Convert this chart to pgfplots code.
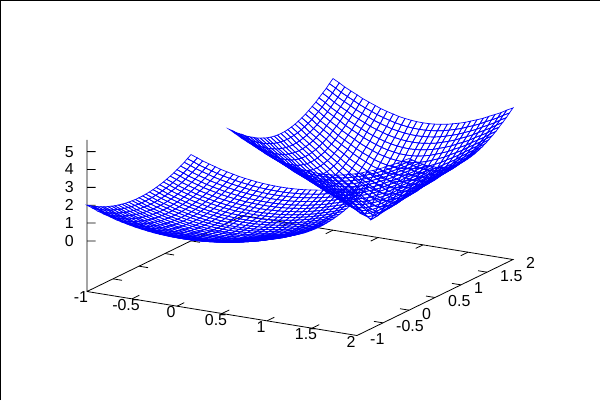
\documentclass[border=0pt]{standalone}
\usepackage{fontspec}
\setmainfont{Liberation Sans}
\usepackage{pgfplots}
\pgfplotsset{compat=1.18}
\begin{document}
\begin{tikzpicture}[x=1bp,y=1bp]
\path[use as bounding box] (0,0) rectangle (600,400);
\draw[line width=1bp] (0.5,0)--(0.5,399.5)--(600,399.5);
\begin{axis}[
    at={(229bp,169.7bp)}, anchor=origin,
    x={(90bp,-14.67bp)}, y={(52bp,25.33bp)}, z={(0bp,17.87bp)},
    xmin=-1, xmax=2, ymin=-1, ymax=2, zmin=-2.8284, zmax=5.6569,
    xtick={-1,-0.5,0,0.5,1,1.5,2}, ytick={-1,-0.5,0,0.5,1,1.5,2}, ztick={0,1,2,3,4,5},
    axis line style={draw=none},
    tick style={draw=none},
    major tick length=0pt,
    /pgf/number format/assume math mode=true,
    tick label style={font=\fontsize{16}{18}\selectfont, inner sep=0pt},
    x tick label style={anchor=center, xshift=-6bp, yshift=-6bp},
    y tick label style={anchor=west, xshift=13bp, yshift=-3.5bp},
    z tick label style={anchor=east, xshift=-13bp, yshift=0bp},
    clip=false,
]
% base frame and z axis
\addplot3[black, line width=0.8bp] coordinates {(-1,-1,5.6569) (-1,-1,-2.8284) (2,-1,-2.8284) (2,2,-2.8284) (-1,2,-2.8284) (-1,-1,-2.8284)};
% tick marks, front and mirrored
\addplot3[black, line width=0.8bp, unbounded coords=jump] coordinates {
(-0.5,-1,-2.8284) (-0.5,-0.86,-2.8284) (0,0,nan) (0,-1,-2.8284) (0,-0.86,-2.8284) (0,0,nan)
(0.5,-1,-2.8284) (0.5,-0.86,-2.8284) (0,0,nan) (1,-1,-2.8284) (1,-0.86,-2.8284) (0,0,nan)
(1.5,-1,-2.8284) (1.5,-0.86,-2.8284) (0,0,nan)
(-0.5,2,-2.8284) (-0.5,1.86,-2.8284) (0,0,nan) (0,2,-2.8284) (0,1.86,-2.8284) (0,0,nan)
(0.5,2,-2.8284) (0.5,1.86,-2.8284) (0,0,nan) (1,2,-2.8284) (1,1.86,-2.8284) (0,0,nan)
(1.5,2,-2.8284) (1.5,1.86,-2.8284) (0,0,nan)
(-1,-0.5,-2.8284) (-0.9,-0.5,-2.8284) (0,0,nan) (-1,0,-2.8284) (-0.9,0,-2.8284) (0,0,nan)
(-1,0.5,-2.8284) (-0.9,0.5,-2.8284) (0,0,nan) (-1,1,-2.8284) (-0.9,1,-2.8284) (0,0,nan)
(-1,1.5,-2.8284) (-0.9,1.5,-2.8284) (0,0,nan)
(2,-0.5,-2.8284) (1.9,-0.5,-2.8284) (0,0,nan) (2,0,-2.8284) (1.9,0,-2.8284) (0,0,nan)
(2,0.5,-2.8284) (1.9,0.5,-2.8284) (0,0,nan) (2,1,-2.8284) (1.9,1,-2.8284) (0,0,nan)
(2,1.5,-2.8284) (1.9,1.5,-2.8284) (0,0,nan)
(-1,-1,0) (-0.9276,-0.9581,0) (0,0,nan) (-1,-1,1) (-0.9276,-0.9581,1) (0,0,nan)
(-1,-1,2) (-0.9276,-0.9581,2) (0,0,nan) (-1,-1,3) (-0.9276,-0.9581,3) (0,0,nan)
(-1,-1,4) (-0.9276,-0.9581,4) (0,0,nan) (-1,-1,5) (-0.9276,-0.9581,5)
};
% left patch
\addplot3[mesh, line width=0.7bp, colormap={bl}{color=(blue) color=(blue)}, mesh/cols=31] coordinates {
(-1,-1,2) (-0.93,-1,1.871) (-0.87,-1,1.751) (-0.8,-1,1.64) (-0.73,-1,1.538) (-0.67,-1,1.444) (-0.6,-1,1.36) (-0.53,-1,1.284) (-0.47,-1,1.218) (-0.4,-1,1.16) (-0.33,-1,1.111) (-0.27,-1,1.071) (-0.2,-1,1.04) (-0.13,-1,1.018) (-0.07,-1,1.004) (0,-1,1) (0.07,-1,1.004) (0.13,-1,1.018) (0.2,-1,1.04) (0.27,-1,1.071) (0.33,-1,1.111) (0.4,-1,1.16) (0.47,-1,1.218) (0.53,-1,1.284) (0.6,-1,1.36) (0.67,-1,1.444) (0.73,-1,1.538) (0.8,-1,1.64) (0.87,-1,1.751) (0.93,-1,1.871) (1,-1,2)
(-1,-0.93,1.871) (-0.93,-0.93,1.742) (-0.87,-0.93,1.622) (-0.8,-0.93,1.511) (-0.73,-0.93,1.409) (-0.67,-0.93,1.315) (-0.6,-0.93,1.231) (-0.53,-0.93,1.155) (-0.47,-0.93,1.089) (-0.4,-0.93,1.031) (-0.33,-0.93,0.982) (-0.27,-0.93,0.942) (-0.2,-0.93,0.911) (-0.13,-0.93,0.889) (-0.07,-0.93,0.875) (0,-0.93,0.871) (0.07,-0.93,0.875) (0.13,-0.93,0.889) (0.2,-0.93,0.911) (0.27,-0.93,0.942) (0.33,-0.93,0.982) (0.4,-0.93,1.031) (0.47,-0.93,1.089) (0.53,-0.93,1.155) (0.6,-0.93,1.231) (0.67,-0.93,1.315) (0.73,-0.93,1.409) (0.8,-0.93,1.511) (0.87,-0.93,1.622) (0.93,-0.93,1.742) (1,-0.93,1.871)
(-1,-0.87,1.751) (-0.93,-0.87,1.622) (-0.87,-0.87,1.502) (-0.8,-0.87,1.391) (-0.73,-0.87,1.289) (-0.67,-0.87,1.195) (-0.6,-0.87,1.111) (-0.53,-0.87,1.035) (-0.47,-0.87,0.969) (-0.4,-0.87,0.911) (-0.33,-0.87,0.862) (-0.27,-0.87,0.822) (-0.2,-0.87,0.791) (-0.13,-0.87,0.769) (-0.07,-0.87,0.755) (0,-0.87,0.751) (0.07,-0.87,0.755) (0.13,-0.87,0.769) (0.2,-0.87,0.791) (0.27,-0.87,0.822) (0.33,-0.87,0.862) (0.4,-0.87,0.911) (0.47,-0.87,0.969) (0.53,-0.87,1.035) (0.6,-0.87,1.111) (0.67,-0.87,1.195) (0.73,-0.87,1.289) (0.8,-0.87,1.391) (0.87,-0.87,1.502) (0.93,-0.87,1.622) (1,-0.87,1.751)
(-1,-0.8,1.64) (-0.93,-0.8,1.511) (-0.87,-0.8,1.391) (-0.8,-0.8,1.28) (-0.73,-0.8,1.178) (-0.67,-0.8,1.084) (-0.6,-0.8,1) (-0.53,-0.8,0.924) (-0.47,-0.8,0.858) (-0.4,-0.8,0.8) (-0.33,-0.8,0.751) (-0.27,-0.8,0.711) (-0.2,-0.8,0.68) (-0.13,-0.8,0.658) (-0.07,-0.8,0.644) (0,-0.8,0.64) (0.07,-0.8,0.644) (0.13,-0.8,0.658) (0.2,-0.8,0.68) (0.27,-0.8,0.711) (0.33,-0.8,0.751) (0.4,-0.8,0.8) (0.47,-0.8,0.858) (0.53,-0.8,0.924) (0.6,-0.8,1) (0.67,-0.8,1.084) (0.73,-0.8,1.178) (0.8,-0.8,1.28) (0.87,-0.8,1.391) (0.93,-0.8,1.511) (1,-0.8,1.64)
(-1,-0.73,1.538) (-0.93,-0.73,1.409) (-0.87,-0.73,1.289) (-0.8,-0.73,1.178) (-0.73,-0.73,1.076) (-0.67,-0.73,0.982) (-0.6,-0.73,0.898) (-0.53,-0.73,0.822) (-0.47,-0.73,0.756) (-0.4,-0.73,0.698) (-0.33,-0.73,0.649) (-0.27,-0.73,0.609) (-0.2,-0.73,0.578) (-0.13,-0.73,0.556) (-0.07,-0.73,0.542) (0,-0.73,0.538) (0.07,-0.73,0.542) (0.13,-0.73,0.556) (0.2,-0.73,0.578) (0.27,-0.73,0.609) (0.33,-0.73,0.649) (0.4,-0.73,0.698) (0.47,-0.73,0.756) (0.53,-0.73,0.822) (0.6,-0.73,0.898) (0.67,-0.73,0.982) (0.73,-0.73,1.076) (0.8,-0.73,1.178) (0.87,-0.73,1.289) (0.93,-0.73,1.409) (1,-0.73,1.538)
(-1,-0.67,1.444) (-0.93,-0.67,1.315) (-0.87,-0.67,1.195) (-0.8,-0.67,1.084) (-0.73,-0.67,0.982) (-0.67,-0.67,0.888) (-0.6,-0.67,0.804) (-0.53,-0.67,0.728) (-0.47,-0.67,0.662) (-0.4,-0.67,0.604) (-0.33,-0.67,0.555) (-0.27,-0.67,0.515) (-0.2,-0.67,0.484) (-0.13,-0.67,0.462) (-0.07,-0.67,0.448) (0,-0.67,0.444) (0.07,-0.67,0.448) (0.13,-0.67,0.462) (0.2,-0.67,0.484) (0.27,-0.67,0.515) (0.33,-0.67,0.555) (0.4,-0.67,0.604) (0.47,-0.67,0.662) (0.53,-0.67,0.728) (0.6,-0.67,0.804) (0.67,-0.67,0.888) (0.73,-0.67,0.982) (0.8,-0.67,1.084) (0.87,-0.67,1.195) (0.93,-0.67,1.315) (1,-0.67,1.444)
(-1,-0.6,1.36) (-0.93,-0.6,1.231) (-0.87,-0.6,1.111) (-0.8,-0.6,1) (-0.73,-0.6,0.898) (-0.67,-0.6,0.804) (-0.6,-0.6,0.72) (-0.53,-0.6,0.644) (-0.47,-0.6,0.578) (-0.4,-0.6,0.52) (-0.33,-0.6,0.471) (-0.27,-0.6,0.431) (-0.2,-0.6,0.4) (-0.13,-0.6,0.378) (-0.07,-0.6,0.364) (0,-0.6,0.36) (0.07,-0.6,0.364) (0.13,-0.6,0.378) (0.2,-0.6,0.4) (0.27,-0.6,0.431) (0.33,-0.6,0.471) (0.4,-0.6,0.52) (0.47,-0.6,0.578) (0.53,-0.6,0.644) (0.6,-0.6,0.72) (0.67,-0.6,0.804) (0.73,-0.6,0.898) (0.8,-0.6,1) (0.87,-0.6,1.111) (0.93,-0.6,1.231) (1,-0.6,1.36)
(-1,-0.53,1.284) (-0.93,-0.53,1.155) (-0.87,-0.53,1.035) (-0.8,-0.53,0.924) (-0.73,-0.53,0.822) (-0.67,-0.53,0.728) (-0.6,-0.53,0.644) (-0.53,-0.53,0.568) (-0.47,-0.53,0.502) (-0.4,-0.53,0.444) (-0.33,-0.53,0.395) (-0.27,-0.53,0.355) (-0.2,-0.53,0.324) (-0.13,-0.53,0.302) (-0.07,-0.53,0.288) (0,-0.53,0.284) (0.07,-0.53,0.288) (0.13,-0.53,0.302) (0.2,-0.53,0.324) (0.27,-0.53,0.355) (0.33,-0.53,0.395) (0.4,-0.53,0.444) (0.47,-0.53,0.502) (0.53,-0.53,0.568) (0.6,-0.53,0.644) (0.67,-0.53,0.728) (0.73,-0.53,0.822) (0.8,-0.53,0.924) (0.87,-0.53,1.035) (0.93,-0.53,1.155) (1,-0.53,1.284)
(-1,-0.47,1.218) (-0.93,-0.47,1.089) (-0.87,-0.47,0.969) (-0.8,-0.47,0.858) (-0.73,-0.47,0.756) (-0.67,-0.47,0.662) (-0.6,-0.47,0.578) (-0.53,-0.47,0.502) (-0.47,-0.47,0.436) (-0.4,-0.47,0.378) (-0.33,-0.47,0.329) (-0.27,-0.47,0.289) (-0.2,-0.47,0.258) (-0.13,-0.47,0.236) (-0.07,-0.47,0.222) (0,-0.47,0.218) (0.07,-0.47,0.222) (0.13,-0.47,0.236) (0.2,-0.47,0.258) (0.27,-0.47,0.289) (0.33,-0.47,0.329) (0.4,-0.47,0.378) (0.47,-0.47,0.436) (0.53,-0.47,0.502) (0.6,-0.47,0.578) (0.67,-0.47,0.662) (0.73,-0.47,0.756) (0.8,-0.47,0.858) (0.87,-0.47,0.969) (0.93,-0.47,1.089) (1,-0.47,1.218)
(-1,-0.4,1.16) (-0.93,-0.4,1.031) (-0.87,-0.4,0.911) (-0.8,-0.4,0.8) (-0.73,-0.4,0.698) (-0.67,-0.4,0.604) (-0.6,-0.4,0.52) (-0.53,-0.4,0.444) (-0.47,-0.4,0.378) (-0.4,-0.4,0.32) (-0.33,-0.4,0.271) (-0.27,-0.4,0.231) (-0.2,-0.4,0.2) (-0.13,-0.4,0.178) (-0.07,-0.4,0.164) (0,-0.4,0.16) (0.07,-0.4,0.164) (0.13,-0.4,0.178) (0.2,-0.4,0.2) (0.27,-0.4,0.231) (0.33,-0.4,0.271) (0.4,-0.4,0.32) (0.47,-0.4,0.378) (0.53,-0.4,0.444) (0.6,-0.4,0.52) (0.67,-0.4,0.604) (0.73,-0.4,0.698) (0.8,-0.4,0.8) (0.87,-0.4,0.911) (0.93,-0.4,1.031) (1,-0.4,1.16)
(-1,-0.33,1.111) (-0.93,-0.33,0.982) (-0.87,-0.33,0.862) (-0.8,-0.33,0.751) (-0.73,-0.33,0.649) (-0.67,-0.33,0.555) (-0.6,-0.33,0.471) (-0.53,-0.33,0.395) (-0.47,-0.33,0.329) (-0.4,-0.33,0.271) (-0.33,-0.33,0.222) (-0.27,-0.33,0.182) (-0.2,-0.33,0.151) (-0.13,-0.33,0.129) (-0.07,-0.33,0.115) (0,-0.33,0.111) (0.07,-0.33,0.115) (0.13,-0.33,0.129) (0.2,-0.33,0.151) (0.27,-0.33,0.182) (0.33,-0.33,0.222) (0.4,-0.33,0.271) (0.47,-0.33,0.329) (0.53,-0.33,0.395) (0.6,-0.33,0.471) (0.67,-0.33,0.555) (0.73,-0.33,0.649) (0.8,-0.33,0.751) (0.87,-0.33,0.862) (0.93,-0.33,0.982) (1,-0.33,1.111)
(-1,-0.27,1.071) (-0.93,-0.27,0.942) (-0.87,-0.27,0.822) (-0.8,-0.27,0.711) (-0.73,-0.27,0.609) (-0.67,-0.27,0.515) (-0.6,-0.27,0.431) (-0.53,-0.27,0.355) (-0.47,-0.27,0.289) (-0.4,-0.27,0.231) (-0.33,-0.27,0.182) (-0.27,-0.27,0.142) (-0.2,-0.27,0.111) (-0.13,-0.27,0.089) (-0.07,-0.27,0.075) (0,-0.27,0.071) (0.07,-0.27,0.075) (0.13,-0.27,0.089) (0.2,-0.27,0.111) (0.27,-0.27,0.142) (0.33,-0.27,0.182) (0.4,-0.27,0.231) (0.47,-0.27,0.289) (0.53,-0.27,0.355) (0.6,-0.27,0.431) (0.67,-0.27,0.515) (0.73,-0.27,0.609) (0.8,-0.27,0.711) (0.87,-0.27,0.822) (0.93,-0.27,0.942) (1,-0.27,1.071)
(-1,-0.2,1.04) (-0.93,-0.2,0.911) (-0.87,-0.2,0.791) (-0.8,-0.2,0.68) (-0.73,-0.2,0.578) (-0.67,-0.2,0.484) (-0.6,-0.2,0.4) (-0.53,-0.2,0.324) (-0.47,-0.2,0.258) (-0.4,-0.2,0.2) (-0.33,-0.2,0.151) (-0.27,-0.2,0.111) (-0.2,-0.2,0.08) (-0.13,-0.2,0.058) (-0.07,-0.2,0.044) (0,-0.2,0.04) (0.07,-0.2,0.044) (0.13,-0.2,0.058) (0.2,-0.2,0.08) (0.27,-0.2,0.111) (0.33,-0.2,0.151) (0.4,-0.2,0.2) (0.47,-0.2,0.258) (0.53,-0.2,0.324) (0.6,-0.2,0.4) (0.67,-0.2,0.484) (0.73,-0.2,0.578) (0.8,-0.2,0.68) (0.87,-0.2,0.791) (0.93,-0.2,0.911) (1,-0.2,1.04)
(-1,-0.13,1.018) (-0.93,-0.13,0.889) (-0.87,-0.13,0.769) (-0.8,-0.13,0.658) (-0.73,-0.13,0.556) (-0.67,-0.13,0.462) (-0.6,-0.13,0.378) (-0.53,-0.13,0.302) (-0.47,-0.13,0.236) (-0.4,-0.13,0.178) (-0.33,-0.13,0.129) (-0.27,-0.13,0.089) (-0.2,-0.13,0.058) (-0.13,-0.13,0.036) (-0.07,-0.13,0.022) (0,-0.13,0.018) (0.07,-0.13,0.022) (0.13,-0.13,0.036) (0.2,-0.13,0.058) (0.27,-0.13,0.089) (0.33,-0.13,0.129) (0.4,-0.13,0.178) (0.47,-0.13,0.236) (0.53,-0.13,0.302) (0.6,-0.13,0.378) (0.67,-0.13,0.462) (0.73,-0.13,0.556) (0.8,-0.13,0.658) (0.87,-0.13,0.769) (0.93,-0.13,0.889) (1,-0.13,1.018)
(-1,-0.07,1.004) (-0.93,-0.07,0.875) (-0.87,-0.07,0.755) (-0.8,-0.07,0.644) (-0.73,-0.07,0.542) (-0.67,-0.07,0.448) (-0.6,-0.07,0.364) (-0.53,-0.07,0.288) (-0.47,-0.07,0.222) (-0.4,-0.07,0.164) (-0.33,-0.07,0.115) (-0.27,-0.07,0.075) (-0.2,-0.07,0.044) (-0.13,-0.07,0.022) (-0.07,-0.07,0.008) (0,-0.07,0.004) (0.07,-0.07,0.008) (0.13,-0.07,0.022) (0.2,-0.07,0.044) (0.27,-0.07,0.075) (0.33,-0.07,0.115) (0.4,-0.07,0.164) (0.47,-0.07,0.222) (0.53,-0.07,0.288) (0.6,-0.07,0.364) (0.67,-0.07,0.448) (0.73,-0.07,0.542) (0.8,-0.07,0.644) (0.87,-0.07,0.755) (0.93,-0.07,0.875) (1,-0.07,1.004)
(-1,0,1) (-0.93,0,0.871) (-0.87,0,0.751) (-0.8,0,0.64) (-0.73,0,0.538) (-0.67,0,0.444) (-0.6,0,0.36) (-0.53,0,0.284) (-0.47,0,0.218) (-0.4,0,0.16) (-0.33,0,0.111) (-0.27,0,0.071) (-0.2,0,0.04) (-0.13,0,0.018) (-0.07,0,0.004) (0,0,0) (0.07,0,0.004) (0.13,0,0.018) (0.2,0,0.04) (0.27,0,0.071) (0.33,0,0.111) (0.4,0,0.16) (0.47,0,0.218) (0.53,0,0.284) (0.6,0,0.36) (0.67,0,0.444) (0.73,0,0.538) (0.8,0,0.64) (0.87,0,0.751) (0.93,0,0.871) (1,0,1)
(-1,0.07,1.004) (-0.93,0.07,0.875) (-0.87,0.07,0.755) (-0.8,0.07,0.644) (-0.73,0.07,0.542) (-0.67,0.07,0.448) (-0.6,0.07,0.364) (-0.53,0.07,0.288) (-0.47,0.07,0.222) (-0.4,0.07,0.164) (-0.33,0.07,0.115) (-0.27,0.07,0.075) (-0.2,0.07,0.044) (-0.13,0.07,0.022) (-0.07,0.07,0.008) (0,0.07,0.004) (0.07,0.07,0.008) (0.13,0.07,0.022) (0.2,0.07,0.044) (0.27,0.07,0.075) (0.33,0.07,0.115) (0.4,0.07,0.164) (0.47,0.07,0.222) (0.53,0.07,0.288) (0.6,0.07,0.364) (0.67,0.07,0.448) (0.73,0.07,0.542) (0.8,0.07,0.644) (0.87,0.07,0.755) (0.93,0.07,0.875) (1,0.07,1.004)
(-1,0.13,1.018) (-0.93,0.13,0.889) (-0.87,0.13,0.769) (-0.8,0.13,0.658) (-0.73,0.13,0.556) (-0.67,0.13,0.462) (-0.6,0.13,0.378) (-0.53,0.13,0.302) (-0.47,0.13,0.236) (-0.4,0.13,0.178) (-0.33,0.13,0.129) (-0.27,0.13,0.089) (-0.2,0.13,0.058) (-0.13,0.13,0.036) (-0.07,0.13,0.022) (0,0.13,0.018) (0.07,0.13,0.022) (0.13,0.13,0.036) (0.2,0.13,0.058) (0.27,0.13,0.089) (0.33,0.13,0.129) (0.4,0.13,0.178) (0.47,0.13,0.236) (0.53,0.13,0.302) (0.6,0.13,0.378) (0.67,0.13,0.462) (0.73,0.13,0.556) (0.8,0.13,0.658) (0.87,0.13,0.769) (0.93,0.13,0.889) (1,0.13,1.018)
(-1,0.2,1.04) (-0.93,0.2,0.911) (-0.87,0.2,0.791) (-0.8,0.2,0.68) (-0.73,0.2,0.578) (-0.67,0.2,0.484) (-0.6,0.2,0.4) (-0.53,0.2,0.324) (-0.47,0.2,0.258) (-0.4,0.2,0.2) (-0.33,0.2,0.151) (-0.27,0.2,0.111) (-0.2,0.2,0.08) (-0.13,0.2,0.058) (-0.07,0.2,0.044) (0,0.2,0.04) (0.07,0.2,0.044) (0.13,0.2,0.058) (0.2,0.2,0.08) (0.27,0.2,0.111) (0.33,0.2,0.151) (0.4,0.2,0.2) (0.47,0.2,0.258) (0.53,0.2,0.324) (0.6,0.2,0.4) (0.67,0.2,0.484) (0.73,0.2,0.578) (0.8,0.2,0.68) (0.87,0.2,0.791) (0.93,0.2,0.911) (1,0.2,1.04)
(-1,0.27,1.071) (-0.93,0.27,0.942) (-0.87,0.27,0.822) (-0.8,0.27,0.711) (-0.73,0.27,0.609) (-0.67,0.27,0.515) (-0.6,0.27,0.431) (-0.53,0.27,0.355) (-0.47,0.27,0.289) (-0.4,0.27,0.231) (-0.33,0.27,0.182) (-0.27,0.27,0.142) (-0.2,0.27,0.111) (-0.13,0.27,0.089) (-0.07,0.27,0.075) (0,0.27,0.071) (0.07,0.27,0.075) (0.13,0.27,0.089) (0.2,0.27,0.111) (0.27,0.27,0.142) (0.33,0.27,0.182) (0.4,0.27,0.231) (0.47,0.27,0.289) (0.53,0.27,0.355) (0.6,0.27,0.431) (0.67,0.27,0.515) (0.73,0.27,0.609) (0.8,0.27,0.711) (0.87,0.27,0.822) (0.93,0.27,0.942) (1,0.27,1.071)
(-1,0.33,1.111) (-0.93,0.33,0.982) (-0.87,0.33,0.862) (-0.8,0.33,0.751) (-0.73,0.33,0.649) (-0.67,0.33,0.555) (-0.6,0.33,0.471) (-0.53,0.33,0.395) (-0.47,0.33,0.329) (-0.4,0.33,0.271) (-0.33,0.33,0.222) (-0.27,0.33,0.182) (-0.2,0.33,0.151) (-0.13,0.33,0.129) (-0.07,0.33,0.115) (0,0.33,0.111) (0.07,0.33,0.115) (0.13,0.33,0.129) (0.2,0.33,0.151) (0.27,0.33,0.182) (0.33,0.33,0.222) (0.4,0.33,0.271) (0.47,0.33,0.329) (0.53,0.33,0.395) (0.6,0.33,0.471) (0.67,0.33,0.555) (0.73,0.33,0.649) (0.8,0.33,0.751) (0.87,0.33,0.862) (0.93,0.33,0.982) (1,0.33,1.111)
(-1,0.4,1.16) (-0.93,0.4,1.031) (-0.87,0.4,0.911) (-0.8,0.4,0.8) (-0.73,0.4,0.698) (-0.67,0.4,0.604) (-0.6,0.4,0.52) (-0.53,0.4,0.444) (-0.47,0.4,0.378) (-0.4,0.4,0.32) (-0.33,0.4,0.271) (-0.27,0.4,0.231) (-0.2,0.4,0.2) (-0.13,0.4,0.178) (-0.07,0.4,0.164) (0,0.4,0.16) (0.07,0.4,0.164) (0.13,0.4,0.178) (0.2,0.4,0.2) (0.27,0.4,0.231) (0.33,0.4,0.271) (0.4,0.4,0.32) (0.47,0.4,0.378) (0.53,0.4,0.444) (0.6,0.4,0.52) (0.67,0.4,0.604) (0.73,0.4,0.698) (0.8,0.4,0.8) (0.87,0.4,0.911) (0.93,0.4,1.031) (1,0.4,1.16)
(-1,0.47,1.218) (-0.93,0.47,1.089) (-0.87,0.47,0.969) (-0.8,0.47,0.858) (-0.73,0.47,0.756) (-0.67,0.47,0.662) (-0.6,0.47,0.578) (-0.53,0.47,0.502) (-0.47,0.47,0.436) (-0.4,0.47,0.378) (-0.33,0.47,0.329) (-0.27,0.47,0.289) (-0.2,0.47,0.258) (-0.13,0.47,0.236) (-0.07,0.47,0.222) (0,0.47,0.218) (0.07,0.47,0.222) (0.13,0.47,0.236) (0.2,0.47,0.258) (0.27,0.47,0.289) (0.33,0.47,0.329) (0.4,0.47,0.378) (0.47,0.47,0.436) (0.53,0.47,0.502) (0.6,0.47,0.578) (0.67,0.47,0.662) (0.73,0.47,0.756) (0.8,0.47,0.858) (0.87,0.47,0.969) (0.93,0.47,1.089) (1,0.47,1.218)
(-1,0.53,1.284) (-0.93,0.53,1.155) (-0.87,0.53,1.035) (-0.8,0.53,0.924) (-0.73,0.53,0.822) (-0.67,0.53,0.728) (-0.6,0.53,0.644) (-0.53,0.53,0.568) (-0.47,0.53,0.502) (-0.4,0.53,0.444) (-0.33,0.53,0.395) (-0.27,0.53,0.355) (-0.2,0.53,0.324) (-0.13,0.53,0.302) (-0.07,0.53,0.288) (0,0.53,0.284) (0.07,0.53,0.288) (0.13,0.53,0.302) (0.2,0.53,0.324) (0.27,0.53,0.355) (0.33,0.53,0.395) (0.4,0.53,0.444) (0.47,0.53,0.502) (0.53,0.53,0.568) (0.6,0.53,0.644) (0.67,0.53,0.728) (0.73,0.53,0.822) (0.8,0.53,0.924) (0.87,0.53,1.035) (0.93,0.53,1.155) (1,0.53,1.284)
(-1,0.6,1.36) (-0.93,0.6,1.231) (-0.87,0.6,1.111) (-0.8,0.6,1) (-0.73,0.6,0.898) (-0.67,0.6,0.804) (-0.6,0.6,0.72) (-0.53,0.6,0.644) (-0.47,0.6,0.578) (-0.4,0.6,0.52) (-0.33,0.6,0.471) (-0.27,0.6,0.431) (-0.2,0.6,0.4) (-0.13,0.6,0.378) (-0.07,0.6,0.364) (0,0.6,0.36) (0.07,0.6,0.364) (0.13,0.6,0.378) (0.2,0.6,0.4) (0.27,0.6,0.431) (0.33,0.6,0.471) (0.4,0.6,0.52) (0.47,0.6,0.578) (0.53,0.6,0.644) (0.6,0.6,0.72) (0.67,0.6,0.804) (0.73,0.6,0.898) (0.8,0.6,1) (0.87,0.6,1.111) (0.93,0.6,1.231) (1,0.6,1.36)
(-1,0.67,1.444) (-0.93,0.67,1.315) (-0.87,0.67,1.195) (-0.8,0.67,1.084) (-0.73,0.67,0.982) (-0.67,0.67,0.888) (-0.6,0.67,0.804) (-0.53,0.67,0.728) (-0.47,0.67,0.662) (-0.4,0.67,0.604) (-0.33,0.67,0.555) (-0.27,0.67,0.515) (-0.2,0.67,0.484) (-0.13,0.67,0.462) (-0.07,0.67,0.448) (0,0.67,0.444) (0.07,0.67,0.448) (0.13,0.67,0.462) (0.2,0.67,0.484) (0.27,0.67,0.515) (0.33,0.67,0.555) (0.4,0.67,0.604) (0.47,0.67,0.662) (0.53,0.67,0.728) (0.6,0.67,0.804) (0.67,0.67,0.888) (0.73,0.67,0.982) (0.8,0.67,1.084) (0.87,0.67,1.195) (0.93,0.67,1.315) (1,0.67,1.444)
(-1,0.73,1.538) (-0.93,0.73,1.409) (-0.87,0.73,1.289) (-0.8,0.73,1.178) (-0.73,0.73,1.076) (-0.67,0.73,0.982) (-0.6,0.73,0.898) (-0.53,0.73,0.822) (-0.47,0.73,0.756) (-0.4,0.73,0.698) (-0.33,0.73,0.649) (-0.27,0.73,0.609) (-0.2,0.73,0.578) (-0.13,0.73,0.556) (-0.07,0.73,0.542) (0,0.73,0.538) (0.07,0.73,0.542) (0.13,0.73,0.556) (0.2,0.73,0.578) (0.27,0.73,0.609) (0.33,0.73,0.649) (0.4,0.73,0.698) (0.47,0.73,0.756) (0.53,0.73,0.822) (0.6,0.73,0.898) (0.67,0.73,0.982) (0.73,0.73,1.076) (0.8,0.73,1.178) (0.87,0.73,1.289) (0.93,0.73,1.409) (1,0.73,1.538)
(-1,0.8,1.64) (-0.93,0.8,1.511) (-0.87,0.8,1.391) (-0.8,0.8,1.28) (-0.73,0.8,1.178) (-0.67,0.8,1.084) (-0.6,0.8,1) (-0.53,0.8,0.924) (-0.47,0.8,0.858) (-0.4,0.8,0.8) (-0.33,0.8,0.751) (-0.27,0.8,0.711) (-0.2,0.8,0.68) (-0.13,0.8,0.658) (-0.07,0.8,0.644) (0,0.8,0.64) (0.07,0.8,0.644) (0.13,0.8,0.658) (0.2,0.8,0.68) (0.27,0.8,0.711) (0.33,0.8,0.751) (0.4,0.8,0.8) (0.47,0.8,0.858) (0.53,0.8,0.924) (0.6,0.8,1) (0.67,0.8,1.084) (0.73,0.8,1.178) (0.8,0.8,1.28) (0.87,0.8,1.391) (0.93,0.8,1.511) (1,0.8,1.64)
(-1,0.87,1.751) (-0.93,0.87,1.622) (-0.87,0.87,1.502) (-0.8,0.87,1.391) (-0.73,0.87,1.289) (-0.67,0.87,1.195) (-0.6,0.87,1.111) (-0.53,0.87,1.035) (-0.47,0.87,0.969) (-0.4,0.87,0.911) (-0.33,0.87,0.862) (-0.27,0.87,0.822) (-0.2,0.87,0.791) (-0.13,0.87,0.769) (-0.07,0.87,0.755) (0,0.87,0.751) (0.07,0.87,0.755) (0.13,0.87,0.769) (0.2,0.87,0.791) (0.27,0.87,0.822) (0.33,0.87,0.862) (0.4,0.87,0.911) (0.47,0.87,0.969) (0.53,0.87,1.035) (0.6,0.87,1.111) (0.67,0.87,1.195) (0.73,0.87,1.289) (0.8,0.87,1.391) (0.87,0.87,1.502) (0.93,0.87,1.622) (1,0.87,1.751)
(-1,0.93,1.871) (-0.93,0.93,1.742) (-0.87,0.93,1.622) (-0.8,0.93,1.511) (-0.73,0.93,1.409) (-0.67,0.93,1.315) (-0.6,0.93,1.231) (-0.53,0.93,1.155) (-0.47,0.93,1.089) (-0.4,0.93,1.031) (-0.33,0.93,0.982) (-0.27,0.93,0.942) (-0.2,0.93,0.911) (-0.13,0.93,0.889) (-0.07,0.93,0.875) (0,0.93,0.871) (0.07,0.93,0.875) (0.13,0.93,0.889) (0.2,0.93,0.911) (0.27,0.93,0.942) (0.33,0.93,0.982) (0.4,0.93,1.031) (0.47,0.93,1.089) (0.53,0.93,1.155) (0.6,0.93,1.231) (0.67,0.93,1.315) (0.73,0.93,1.409) (0.8,0.93,1.511) (0.87,0.93,1.622) (0.93,0.93,1.742) (1,0.93,1.871)
(-1,1,2) (-0.93,1,1.871) (-0.87,1,1.751) (-0.8,1,1.64) (-0.73,1,1.538) (-0.67,1,1.444) (-0.6,1,1.36) (-0.53,1,1.284) (-0.47,1,1.218) (-0.4,1,1.16) (-0.33,1,1.111) (-0.27,1,1.071) (-0.2,1,1.04) (-0.13,1,1.018) (-0.07,1,1.004) (0,1,1) (0.07,1,1.004) (0.13,1,1.018) (0.2,1,1.04) (0.27,1,1.071) (0.33,1,1.111) (0.4,1,1.16) (0.47,1,1.218) (0.53,1,1.284) (0.6,1,1.36) (0.67,1,1.444) (0.73,1,1.538) (0.8,1,1.64) (0.87,1,1.751) (0.93,1,1.871) (1,1,2)
};
% right patch
\addplot3[mesh, line width=0.7bp, colormap={bl}{color=(blue) color=(blue)}, mesh/cols=31] coordinates {
(0,0,5.657) (0.07,0,5.471) (0.13,0,5.293) (0.2,0,5.122) (0.27,0,4.96) (0.33,0,4.807) (0.4,0,4.665) (0.47,0,4.533) (0.53,0,4.414) (0.6,0,4.308) (0.67,0,4.216) (0.73,0,4.14) (0.8,0,4.079) (0.87,0,4.035) (0.93,0,4.009) (1,0,4) (1.07,0,4.009) (1.13,0,4.035) (1.2,0,4.079) (1.27,0,4.14) (1.33,0,4.216) (1.4,0,4.308) (1.47,0,4.414) (1.53,0,4.533) (1.6,0,4.665) (1.67,0,4.807) (1.73,0,4.96) (1.8,0,5.122) (1.87,0,5.293) (1.93,0,5.471) (2,0,5.657)
(0,0.07,5.471) (0.07,0.07,5.28) (0.13,0.07,5.095) (0.2,0.07,4.917) (0.27,0.07,4.748) (0.33,0.07,4.588) (0.4,0.07,4.438) (0.47,0.07,4.3) (0.53,0.07,4.174) (0.6,0.07,4.062) (0.67,0.07,3.964) (0.73,0.07,3.883) (0.8,0.07,3.818) (0.87,0.07,3.771) (0.93,0.07,3.743) (1,0.07,3.733) (1.07,0.07,3.743) (1.13,0.07,3.771) (1.2,0.07,3.818) (1.27,0.07,3.883) (1.33,0.07,3.964) (1.4,0.07,4.062) (1.47,0.07,4.174) (1.53,0.07,4.3) (1.6,0.07,4.438) (1.67,0.07,4.588) (1.73,0.07,4.748) (1.8,0.07,4.917) (1.87,0.07,5.095) (1.93,0.07,5.28) (2,0.07,5.471)
(0,0.13,5.293) (0.07,0.13,5.095) (0.13,0.13,4.903) (0.2,0.13,4.718) (0.27,0.13,4.541) (0.33,0.13,4.374) (0.4,0.13,4.216) (0.47,0.13,4.07) (0.53,0.13,3.937) (0.6,0.13,3.818) (0.67,0.13,3.714) (0.73,0.13,3.627) (0.8,0.13,3.558) (0.87,0.13,3.507) (0.93,0.13,3.477) (1,0.13,3.467) (1.07,0.13,3.477) (1.13,0.13,3.507) (1.2,0.13,3.558) (1.27,0.13,3.627) (1.33,0.13,3.714) (1.4,0.13,3.818) (1.47,0.13,3.937) (1.53,0.13,4.07) (1.6,0.13,4.216) (1.67,0.13,4.374) (1.73,0.13,4.541) (1.8,0.13,4.718) (1.87,0.13,4.903) (1.93,0.13,5.095) (2,0.13,5.293)
(0,0.2,5.122) (0.07,0.2,4.917) (0.13,0.2,4.718) (0.2,0.2,4.525) (0.27,0.2,4.341) (0.33,0.2,4.165) (0.4,0.2,4) (0.47,0.2,3.846) (0.53,0.2,3.705) (0.6,0.2,3.578) (0.67,0.2,3.467) (0.73,0.2,3.373) (0.8,0.2,3.298) (0.87,0.2,3.244) (0.93,0.2,3.211) (1,0.2,3.2) (1.07,0.2,3.211) (1.13,0.2,3.244) (1.2,0.2,3.298) (1.27,0.2,3.373) (1.33,0.2,3.467) (1.4,0.2,3.578) (1.47,0.2,3.705) (1.53,0.2,3.846) (1.6,0.2,4) (1.67,0.2,4.165) (1.73,0.2,4.341) (1.8,0.2,4.525) (1.87,0.2,4.718) (1.93,0.2,4.917) (2,0.2,5.122)
(0,0.27,4.96) (0.07,0.27,4.748) (0.13,0.27,4.541) (0.2,0.27,4.341) (0.27,0.27,4.148) (0.33,0.27,3.964) (0.4,0.27,3.79) (0.47,0.27,3.627) (0.53,0.27,3.477) (0.6,0.27,3.341) (0.67,0.27,3.222) (0.73,0.27,3.121) (0.8,0.27,3.04) (0.87,0.27,2.981) (0.93,0.27,2.945) (1,0.27,2.933) (1.07,0.27,2.945) (1.13,0.27,2.981) (1.2,0.27,3.04) (1.27,0.27,3.121) (1.33,0.27,3.222) (1.4,0.27,3.341) (1.47,0.27,3.477) (1.53,0.27,3.627) (1.6,0.27,3.79) (1.67,0.27,3.964) (1.73,0.27,4.148) (1.8,0.27,4.341) (1.87,0.27,4.541) (1.93,0.27,4.748) (2,0.27,4.96)
(0,0.33,4.807) (0.07,0.33,4.588) (0.13,0.33,4.374) (0.2,0.33,4.165) (0.27,0.33,3.964) (0.33,0.33,3.771) (0.4,0.33,3.588) (0.47,0.33,3.415) (0.53,0.33,3.255) (0.6,0.33,3.11) (0.67,0.33,2.981) (0.73,0.33,2.872) (0.8,0.33,2.784) (0.87,0.33,2.719) (0.93,0.33,2.68) (1,0.33,2.667) (1.07,0.33,2.68) (1.13,0.33,2.719) (1.2,0.33,2.784) (1.27,0.33,2.872) (1.33,0.33,2.981) (1.4,0.33,3.11) (1.47,0.33,3.255) (1.53,0.33,3.415) (1.6,0.33,3.588) (1.67,0.33,3.771) (1.73,0.33,3.964) (1.8,0.33,4.165) (1.87,0.33,4.374) (1.93,0.33,4.588) (2,0.33,4.807)
(0,0.4,4.665) (0.07,0.4,4.438) (0.13,0.4,4.216) (0.2,0.4,4) (0.27,0.4,3.79) (0.33,0.4,3.588) (0.4,0.4,3.394) (0.47,0.4,3.211) (0.53,0.4,3.04) (0.6,0.4,2.884) (0.67,0.4,2.745) (0.73,0.4,2.626) (0.8,0.4,2.53) (0.87,0.4,2.459) (0.93,0.4,2.415) (1,0.4,2.4) (1.07,0.4,2.415) (1.13,0.4,2.459) (1.2,0.4,2.53) (1.27,0.4,2.626) (1.33,0.4,2.745) (1.4,0.4,2.884) (1.47,0.4,3.04) (1.53,0.4,3.211) (1.6,0.4,3.394) (1.67,0.4,3.588) (1.73,0.4,3.79) (1.8,0.4,4) (1.87,0.4,4.216) (1.93,0.4,4.438) (2,0.4,4.665)
(0,0.47,4.533) (0.07,0.47,4.3) (0.13,0.47,4.07) (0.2,0.47,3.846) (0.27,0.47,3.627) (0.33,0.47,3.415) (0.4,0.47,3.211) (0.47,0.47,3.017) (0.53,0.47,2.835) (0.6,0.47,2.667) (0.67,0.47,2.516) (0.73,0.47,2.385) (0.8,0.47,2.278) (0.87,0.47,2.199) (0.93,0.47,2.15) (1,0.47,2.133) (1.07,0.47,2.15) (1.13,0.47,2.199) (1.2,0.47,2.278) (1.27,0.47,2.385) (1.33,0.47,2.516) (1.4,0.47,2.667) (1.47,0.47,2.835) (1.53,0.47,3.017) (1.6,0.47,3.211) (1.67,0.47,3.415) (1.73,0.47,3.627) (1.8,0.47,3.846) (1.87,0.47,4.07) (1.93,0.47,4.3) (2,0.47,4.533)
(0,0.53,4.414) (0.07,0.53,4.174) (0.13,0.53,3.937) (0.2,0.53,3.705) (0.27,0.53,3.477) (0.33,0.53,3.255) (0.4,0.53,3.04) (0.47,0.53,2.835) (0.53,0.53,2.64) (0.6,0.53,2.459) (0.67,0.53,2.294) (0.73,0.53,2.15) (0.8,0.53,2.031) (0.87,0.53,1.941) (0.93,0.53,1.886) (1,0.53,1.867) (1.07,0.53,1.886) (1.13,0.53,1.941) (1.2,0.53,2.031) (1.27,0.53,2.15) (1.33,0.53,2.294) (1.4,0.53,2.459) (1.47,0.53,2.64) (1.53,0.53,2.835) (1.6,0.53,3.04) (1.67,0.53,3.255) (1.73,0.53,3.477) (1.8,0.53,3.705) (1.87,0.53,3.937) (1.93,0.53,4.174) (2,0.53,4.414)
(0,0.6,4.308) (0.07,0.6,4.062) (0.13,0.6,3.818) (0.2,0.6,3.578) (0.27,0.6,3.341) (0.33,0.6,3.11) (0.4,0.6,2.884) (0.47,0.6,2.667) (0.53,0.6,2.459) (0.6,0.6,2.263) (0.67,0.6,2.083) (0.73,0.6,1.923) (0.8,0.6,1.789) (0.87,0.6,1.687) (0.93,0.6,1.622) (1,0.6,1.6) (1.07,0.6,1.622) (1.13,0.6,1.687) (1.2,0.6,1.789) (1.27,0.6,1.923) (1.33,0.6,2.083) (1.4,0.6,2.263) (1.47,0.6,2.459) (1.53,0.6,2.667) (1.6,0.6,2.884) (1.67,0.6,3.11) (1.73,0.6,3.341) (1.8,0.6,3.578) (1.87,0.6,3.818) (1.93,0.6,4.062) (2,0.6,4.308)
(0,0.67,4.216) (0.07,0.67,3.964) (0.13,0.67,3.714) (0.2,0.67,3.467) (0.27,0.67,3.222) (0.33,0.67,2.981) (0.4,0.67,2.745) (0.47,0.67,2.516) (0.53,0.67,2.294) (0.6,0.67,2.083) (0.67,0.67,1.886) (0.73,0.67,1.708) (0.8,0.67,1.555) (0.87,0.67,1.436) (0.93,0.67,1.36) (1,0.67,1.333) (1.07,0.67,1.36) (1.13,0.67,1.436) (1.2,0.67,1.555) (1.27,0.67,1.708) (1.33,0.67,1.886) (1.4,0.67,2.083) (1.47,0.67,2.294) (1.53,0.67,2.516) (1.6,0.67,2.745) (1.67,0.67,2.981) (1.73,0.67,3.222) (1.8,0.67,3.467) (1.87,0.67,3.714) (1.93,0.67,3.964) (2,0.67,4.216)
(0,0.73,4.14) (0.07,0.73,3.883) (0.13,0.73,3.627) (0.2,0.73,3.373) (0.27,0.73,3.121) (0.33,0.73,2.872) (0.4,0.73,2.626) (0.47,0.73,2.385) (0.53,0.73,2.15) (0.6,0.73,1.923) (0.67,0.73,1.708) (0.73,0.73,1.508) (0.8,0.73,1.333) (0.87,0.73,1.193) (0.93,0.73,1.1) (1,0.73,1.067) (1.07,0.73,1.1) (1.13,0.73,1.193) (1.2,0.73,1.333) (1.27,0.73,1.508) (1.33,0.73,1.708) (1.4,0.73,1.923) (1.47,0.73,2.15) (1.53,0.73,2.385) (1.6,0.73,2.626) (1.67,0.73,2.872) (1.73,0.73,3.121) (1.8,0.73,3.373) (1.87,0.73,3.627) (1.93,0.73,3.883) (2,0.73,4.14)
(0,0.8,4.079) (0.07,0.8,3.818) (0.13,0.8,3.558) (0.2,0.8,3.298) (0.27,0.8,3.04) (0.33,0.8,2.784) (0.4,0.8,2.53) (0.47,0.8,2.278) (0.53,0.8,2.031) (0.6,0.8,1.789) (0.67,0.8,1.555) (0.73,0.8,1.333) (0.8,0.8,1.131) (0.87,0.8,0.961) (0.93,0.8,0.843) (1,0.8,0.8) (1.07,0.8,0.843) (1.13,0.8,0.961) (1.2,0.8,1.131) (1.27,0.8,1.333) (1.33,0.8,1.555) (1.4,0.8,1.789) (1.47,0.8,2.031) (1.53,0.8,2.278) (1.6,0.8,2.53) (1.67,0.8,2.784) (1.73,0.8,3.04) (1.8,0.8,3.298) (1.87,0.8,3.558) (1.93,0.8,3.818) (2,0.8,4.079)
(0,0.87,4.035) (0.07,0.87,3.771) (0.13,0.87,3.507) (0.2,0.87,3.244) (0.27,0.87,2.981) (0.33,0.87,2.719) (0.4,0.87,2.459) (0.47,0.87,2.199) (0.53,0.87,1.941) (0.6,0.87,1.687) (0.67,0.87,1.436) (0.73,0.87,1.193) (0.8,0.87,0.961) (0.87,0.87,0.754) (0.93,0.87,0.596) (1,0.87,0.533) (1.07,0.87,0.596) (1.13,0.87,0.754) (1.2,0.87,0.961) (1.27,0.87,1.193) (1.33,0.87,1.436) (1.4,0.87,1.687) (1.47,0.87,1.941) (1.53,0.87,2.199) (1.6,0.87,2.459) (1.67,0.87,2.719) (1.73,0.87,2.981) (1.8,0.87,3.244) (1.87,0.87,3.507) (1.93,0.87,3.771) (2,0.87,4.035)
(0,0.93,4.009) (0.07,0.93,3.743) (0.13,0.93,3.477) (0.2,0.93,3.211) (0.27,0.93,2.945) (0.33,0.93,2.68) (0.4,0.93,2.415) (0.47,0.93,2.15) (0.53,0.93,1.886) (0.6,0.93,1.622) (0.67,0.93,1.36) (0.73,0.93,1.1) (0.8,0.93,0.843) (0.87,0.93,0.596) (0.93,0.93,0.377) (1,0.93,0.267) (1.07,0.93,0.377) (1.13,0.93,0.596) (1.2,0.93,0.843) (1.27,0.93,1.1) (1.33,0.93,1.36) (1.4,0.93,1.622) (1.47,0.93,1.886) (1.53,0.93,2.15) (1.6,0.93,2.415) (1.67,0.93,2.68) (1.73,0.93,2.945) (1.8,0.93,3.211) (1.87,0.93,3.477) (1.93,0.93,3.743) (2,0.93,4.009)
(0,1,4) (0.07,1,3.733) (0.13,1,3.467) (0.2,1,3.2) (0.27,1,2.933) (0.33,1,2.667) (0.4,1,2.4) (0.47,1,2.133) (0.53,1,1.867) (0.6,1,1.6) (0.67,1,1.333) (0.73,1,1.067) (0.8,1,0.8) (0.87,1,0.533) (0.93,1,0.267) (1,1,0) (1.07,1,0.267) (1.13,1,0.533) (1.2,1,0.8) (1.27,1,1.067) (1.33,1,1.333) (1.4,1,1.6) (1.47,1,1.867) (1.53,1,2.133) (1.6,1,2.4) (1.67,1,2.667) (1.73,1,2.933) (1.8,1,3.2) (1.87,1,3.467) (1.93,1,3.733) (2,1,4)
(0,1.07,4.009) (0.07,1.07,3.743) (0.13,1.07,3.477) (0.2,1.07,3.211) (0.27,1.07,2.945) (0.33,1.07,2.68) (0.4,1.07,2.415) (0.47,1.07,2.15) (0.53,1.07,1.886) (0.6,1.07,1.622) (0.67,1.07,1.36) (0.73,1.07,1.1) (0.8,1.07,0.843) (0.87,1.07,0.596) (0.93,1.07,0.377) (1,1.07,0.267) (1.07,1.07,0.377) (1.13,1.07,0.596) (1.2,1.07,0.843) (1.27,1.07,1.1) (1.33,1.07,1.36) (1.4,1.07,1.622) (1.47,1.07,1.886) (1.53,1.07,2.15) (1.6,1.07,2.415) (1.67,1.07,2.68) (1.73,1.07,2.945) (1.8,1.07,3.211) (1.87,1.07,3.477) (1.93,1.07,3.743) (2,1.07,4.009)
(0,1.13,4.035) (0.07,1.13,3.771) (0.13,1.13,3.507) (0.2,1.13,3.244) (0.27,1.13,2.981) (0.33,1.13,2.719) (0.4,1.13,2.459) (0.47,1.13,2.199) (0.53,1.13,1.941) (0.6,1.13,1.687) (0.67,1.13,1.436) (0.73,1.13,1.193) (0.8,1.13,0.961) (0.87,1.13,0.754) (0.93,1.13,0.596) (1,1.13,0.533) (1.07,1.13,0.596) (1.13,1.13,0.754) (1.2,1.13,0.961) (1.27,1.13,1.193) (1.33,1.13,1.436) (1.4,1.13,1.687) (1.47,1.13,1.941) (1.53,1.13,2.199) (1.6,1.13,2.459) (1.67,1.13,2.719) (1.73,1.13,2.981) (1.8,1.13,3.244) (1.87,1.13,3.507) (1.93,1.13,3.771) (2,1.13,4.035)
(0,1.2,4.079) (0.07,1.2,3.818) (0.13,1.2,3.558) (0.2,1.2,3.298) (0.27,1.2,3.04) (0.33,1.2,2.784) (0.4,1.2,2.53) (0.47,1.2,2.278) (0.53,1.2,2.031) (0.6,1.2,1.789) (0.67,1.2,1.555) (0.73,1.2,1.333) (0.8,1.2,1.131) (0.87,1.2,0.961) (0.93,1.2,0.843) (1,1.2,0.8) (1.07,1.2,0.843) (1.13,1.2,0.961) (1.2,1.2,1.131) (1.27,1.2,1.333) (1.33,1.2,1.555) (1.4,1.2,1.789) (1.47,1.2,2.031) (1.53,1.2,2.278) (1.6,1.2,2.53) (1.67,1.2,2.784) (1.73,1.2,3.04) (1.8,1.2,3.298) (1.87,1.2,3.558) (1.93,1.2,3.818) (2,1.2,4.079)
(0,1.27,4.14) (0.07,1.27,3.883) (0.13,1.27,3.627) (0.2,1.27,3.373) (0.27,1.27,3.121) (0.33,1.27,2.872) (0.4,1.27,2.626) (0.47,1.27,2.385) (0.53,1.27,2.15) (0.6,1.27,1.923) (0.67,1.27,1.708) (0.73,1.27,1.508) (0.8,1.27,1.333) (0.87,1.27,1.193) (0.93,1.27,1.1) (1,1.27,1.067) (1.07,1.27,1.1) (1.13,1.27,1.193) (1.2,1.27,1.333) (1.27,1.27,1.508) (1.33,1.27,1.708) (1.4,1.27,1.923) (1.47,1.27,2.15) (1.53,1.27,2.385) (1.6,1.27,2.626) (1.67,1.27,2.872) (1.73,1.27,3.121) (1.8,1.27,3.373) (1.87,1.27,3.627) (1.93,1.27,3.883) (2,1.27,4.14)
(0,1.33,4.216) (0.07,1.33,3.964) (0.13,1.33,3.714) (0.2,1.33,3.467) (0.27,1.33,3.222) (0.33,1.33,2.981) (0.4,1.33,2.745) (0.47,1.33,2.516) (0.53,1.33,2.294) (0.6,1.33,2.083) (0.67,1.33,1.886) (0.73,1.33,1.708) (0.8,1.33,1.555) (0.87,1.33,1.436) (0.93,1.33,1.36) (1,1.33,1.333) (1.07,1.33,1.36) (1.13,1.33,1.436) (1.2,1.33,1.555) (1.27,1.33,1.708) (1.33,1.33,1.886) (1.4,1.33,2.083) (1.47,1.33,2.294) (1.53,1.33,2.516) (1.6,1.33,2.745) (1.67,1.33,2.981) (1.73,1.33,3.222) (1.8,1.33,3.467) (1.87,1.33,3.714) (1.93,1.33,3.964) (2,1.33,4.216)
(0,1.4,4.308) (0.07,1.4,4.062) (0.13,1.4,3.818) (0.2,1.4,3.578) (0.27,1.4,3.341) (0.33,1.4,3.11) (0.4,1.4,2.884) (0.47,1.4,2.667) (0.53,1.4,2.459) (0.6,1.4,2.263) (0.67,1.4,2.083) (0.73,1.4,1.923) (0.8,1.4,1.789) (0.87,1.4,1.687) (0.93,1.4,1.622) (1,1.4,1.6) (1.07,1.4,1.622) (1.13,1.4,1.687) (1.2,1.4,1.789) (1.27,1.4,1.923) (1.33,1.4,2.083) (1.4,1.4,2.263) (1.47,1.4,2.459) (1.53,1.4,2.667) (1.6,1.4,2.884) (1.67,1.4,3.11) (1.73,1.4,3.341) (1.8,1.4,3.578) (1.87,1.4,3.818) (1.93,1.4,4.062) (2,1.4,4.308)
(0,1.47,4.414) (0.07,1.47,4.174) (0.13,1.47,3.937) (0.2,1.47,3.705) (0.27,1.47,3.477) (0.33,1.47,3.255) (0.4,1.47,3.04) (0.47,1.47,2.835) (0.53,1.47,2.64) (0.6,1.47,2.459) (0.67,1.47,2.294) (0.73,1.47,2.15) (0.8,1.47,2.031) (0.87,1.47,1.941) (0.93,1.47,1.886) (1,1.47,1.867) (1.07,1.47,1.886) (1.13,1.47,1.941) (1.2,1.47,2.031) (1.27,1.47,2.15) (1.33,1.47,2.294) (1.4,1.47,2.459) (1.47,1.47,2.64) (1.53,1.47,2.835) (1.6,1.47,3.04) (1.67,1.47,3.255) (1.73,1.47,3.477) (1.8,1.47,3.705) (1.87,1.47,3.937) (1.93,1.47,4.174) (2,1.47,4.414)
(0,1.53,4.533) (0.07,1.53,4.3) (0.13,1.53,4.07) (0.2,1.53,3.846) (0.27,1.53,3.627) (0.33,1.53,3.415) (0.4,1.53,3.211) (0.47,1.53,3.017) (0.53,1.53,2.835) (0.6,1.53,2.667) (0.67,1.53,2.516) (0.73,1.53,2.385) (0.8,1.53,2.278) (0.87,1.53,2.199) (0.93,1.53,2.15) (1,1.53,2.133) (1.07,1.53,2.15) (1.13,1.53,2.199) (1.2,1.53,2.278) (1.27,1.53,2.385) (1.33,1.53,2.516) (1.4,1.53,2.667) (1.47,1.53,2.835) (1.53,1.53,3.017) (1.6,1.53,3.211) (1.67,1.53,3.415) (1.73,1.53,3.627) (1.8,1.53,3.846) (1.87,1.53,4.07) (1.93,1.53,4.3) (2,1.53,4.533)
(0,1.6,4.665) (0.07,1.6,4.438) (0.13,1.6,4.216) (0.2,1.6,4) (0.27,1.6,3.79) (0.33,1.6,3.588) (0.4,1.6,3.394) (0.47,1.6,3.211) (0.53,1.6,3.04) (0.6,1.6,2.884) (0.67,1.6,2.745) (0.73,1.6,2.626) (0.8,1.6,2.53) (0.87,1.6,2.459) (0.93,1.6,2.415) (1,1.6,2.4) (1.07,1.6,2.415) (1.13,1.6,2.459) (1.2,1.6,2.53) (1.27,1.6,2.626) (1.33,1.6,2.745) (1.4,1.6,2.884) (1.47,1.6,3.04) (1.53,1.6,3.211) (1.6,1.6,3.394) (1.67,1.6,3.588) (1.73,1.6,3.79) (1.8,1.6,4) (1.87,1.6,4.216) (1.93,1.6,4.438) (2,1.6,4.665)
(0,1.67,4.807) (0.07,1.67,4.588) (0.13,1.67,4.374) (0.2,1.67,4.165) (0.27,1.67,3.964) (0.33,1.67,3.771) (0.4,1.67,3.588) (0.47,1.67,3.415) (0.53,1.67,3.255) (0.6,1.67,3.11) (0.67,1.67,2.981) (0.73,1.67,2.872) (0.8,1.67,2.784) (0.87,1.67,2.719) (0.93,1.67,2.68) (1,1.67,2.667) (1.07,1.67,2.68) (1.13,1.67,2.719) (1.2,1.67,2.784) (1.27,1.67,2.872) (1.33,1.67,2.981) (1.4,1.67,3.11) (1.47,1.67,3.255) (1.53,1.67,3.415) (1.6,1.67,3.588) (1.67,1.67,3.771) (1.73,1.67,3.964) (1.8,1.67,4.165) (1.87,1.67,4.374) (1.93,1.67,4.588) (2,1.67,4.807)
(0,1.73,4.96) (0.07,1.73,4.748) (0.13,1.73,4.541) (0.2,1.73,4.341) (0.27,1.73,4.148) (0.33,1.73,3.964) (0.4,1.73,3.79) (0.47,1.73,3.627) (0.53,1.73,3.477) (0.6,1.73,3.341) (0.67,1.73,3.222) (0.73,1.73,3.121) (0.8,1.73,3.04) (0.87,1.73,2.981) (0.93,1.73,2.945) (1,1.73,2.933) (1.07,1.73,2.945) (1.13,1.73,2.981) (1.2,1.73,3.04) (1.27,1.73,3.121) (1.33,1.73,3.222) (1.4,1.73,3.341) (1.47,1.73,3.477) (1.53,1.73,3.627) (1.6,1.73,3.79) (1.67,1.73,3.964) (1.73,1.73,4.148) (1.8,1.73,4.341) (1.87,1.73,4.541) (1.93,1.73,4.748) (2,1.73,4.96)
(0,1.8,5.122) (0.07,1.8,4.917) (0.13,1.8,4.718) (0.2,1.8,4.525) (0.27,1.8,4.341) (0.33,1.8,4.165) (0.4,1.8,4) (0.47,1.8,3.846) (0.53,1.8,3.705) (0.6,1.8,3.578) (0.67,1.8,3.467) (0.73,1.8,3.373) (0.8,1.8,3.298) (0.87,1.8,3.244) (0.93,1.8,3.211) (1,1.8,3.2) (1.07,1.8,3.211) (1.13,1.8,3.244) (1.2,1.8,3.298) (1.27,1.8,3.373) (1.33,1.8,3.467) (1.4,1.8,3.578) (1.47,1.8,3.705) (1.53,1.8,3.846) (1.6,1.8,4) (1.67,1.8,4.165) (1.73,1.8,4.341) (1.8,1.8,4.525) (1.87,1.8,4.718) (1.93,1.8,4.917) (2,1.8,5.122)
(0,1.87,5.293) (0.07,1.87,5.095) (0.13,1.87,4.903) (0.2,1.87,4.718) (0.27,1.87,4.541) (0.33,1.87,4.374) (0.4,1.87,4.216) (0.47,1.87,4.07) (0.53,1.87,3.937) (0.6,1.87,3.818) (0.67,1.87,3.714) (0.73,1.87,3.627) (0.8,1.87,3.558) (0.87,1.87,3.507) (0.93,1.87,3.477) (1,1.87,3.467) (1.07,1.87,3.477) (1.13,1.87,3.507) (1.2,1.87,3.558) (1.27,1.87,3.627) (1.33,1.87,3.714) (1.4,1.87,3.818) (1.47,1.87,3.937) (1.53,1.87,4.07) (1.6,1.87,4.216) (1.67,1.87,4.374) (1.73,1.87,4.541) (1.8,1.87,4.718) (1.87,1.87,4.903) (1.93,1.87,5.095) (2,1.87,5.293)
(0,1.93,5.471) (0.07,1.93,5.28) (0.13,1.93,5.095) (0.2,1.93,4.917) (0.27,1.93,4.748) (0.33,1.93,4.588) (0.4,1.93,4.438) (0.47,1.93,4.3) (0.53,1.93,4.174) (0.6,1.93,4.062) (0.67,1.93,3.964) (0.73,1.93,3.883) (0.8,1.93,3.818) (0.87,1.93,3.771) (0.93,1.93,3.743) (1,1.93,3.733) (1.07,1.93,3.743) (1.13,1.93,3.771) (1.2,1.93,3.818) (1.27,1.93,3.883) (1.33,1.93,3.964) (1.4,1.93,4.062) (1.47,1.93,4.174) (1.53,1.93,4.3) (1.6,1.93,4.438) (1.67,1.93,4.588) (1.73,1.93,4.748) (1.8,1.93,4.917) (1.87,1.93,5.095) (1.93,1.93,5.28) (2,1.93,5.471)
(0,2,5.657) (0.07,2,5.471) (0.13,2,5.293) (0.2,2,5.122) (0.27,2,4.96) (0.33,2,4.807) (0.4,2,4.665) (0.47,2,4.533) (0.53,2,4.414) (0.6,2,4.308) (0.67,2,4.216) (0.73,2,4.14) (0.8,2,4.079) (0.87,2,4.035) (0.93,2,4.009) (1,2,4) (1.07,2,4.009) (1.13,2,4.035) (1.2,2,4.079) (1.27,2,4.14) (1.33,2,4.216) (1.4,2,4.308) (1.47,2,4.414) (1.53,2,4.533) (1.6,2,4.665) (1.67,2,4.807) (1.73,2,4.96) (1.8,2,5.122) (1.87,2,5.293) (1.93,2,5.471) (2,2,5.657)
};
\end{axis}
\end{tikzpicture}
\end{document}
